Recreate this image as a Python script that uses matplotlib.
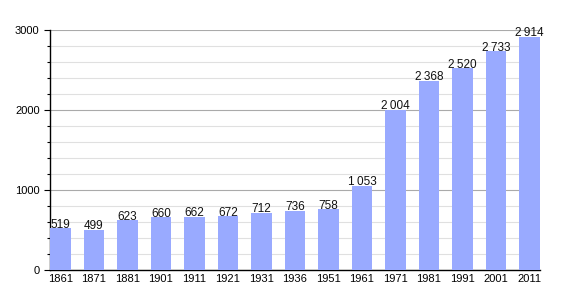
import numpy as np
import matplotlib.pyplot as plt
from matplotlib.ticker import MultipleLocator

years = ['1861', '1871', '1881', '1901', '1911', '1921', '1931', '1936',
         '1951', '1961', '1971', '1981', '1991', '2001', '2011']
population = [519, 499, 623, 660, 662, 672, 712, 736, 758, 1053, 2004,
              2368, 2520, 2733, 2914]

plt.rcParams['font.family'] = ['Liberation Sans', 'DejaVu Sans']

fig = plt.figure(figsize=(5.7, 3.0), dpi=100)
ax = fig.add_axes([0.0877, 0.1, 0.8596, 0.8])

x = np.arange(len(years))
ax.bar(x, population, width=0.62, color='#99aaff', zorder=3)

# étiquettes au-dessus des barres (espace fine comme séparateur)
for xi, v in zip(x, population):
    txt = f'{v:,}'.replace(',', '\u2009')
    ax.text(xi, v + 8, txt, ha='center', va='baseline', fontsize=8.5,
            color='#111111', zorder=4)

ax.set_xlim(-0.31, len(years) - 1 + 0.31)
ax.set_ylim(0, 3000)
ax.set_xticks(x)
ax.set_xticklabels(years, fontsize=8)
ax.yaxis.set_major_locator(MultipleLocator(1000))
ax.yaxis.set_minor_locator(MultipleLocator(200))
ax.tick_params(axis='y', labelsize=8, length=4, width=0.8)
ax.tick_params(axis='y', which='minor', length=2.5, width=0.8)
ax.tick_params(axis='x', length=0, pad=3)

ax.grid(axis='y', which='major', color='#aaaaaa', linewidth=0.8, zorder=1)
ax.grid(axis='y', which='minor', color='#e0e0e0', linewidth=0.8, zorder=1)

for s in ['top', 'right']:
    ax.spines[s].set_visible(False)
ax.spines['left'].set_linewidth(1.0)
ax.spines['bottom'].set_linewidth(1.0)

fig.savefig('out.png', dpi=100)
